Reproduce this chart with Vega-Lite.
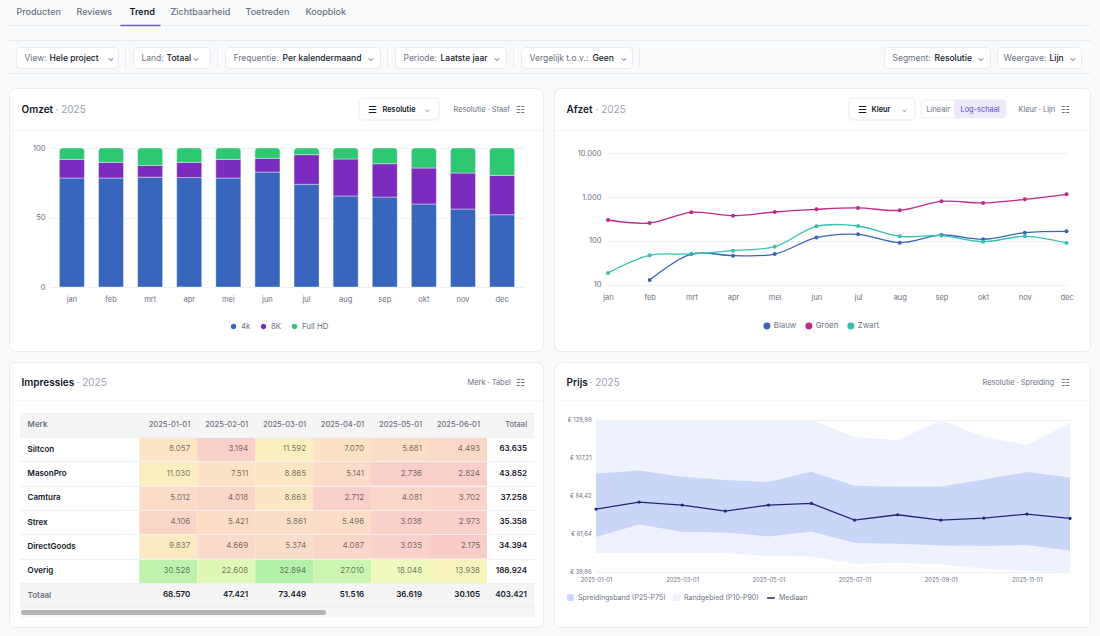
{
"$schema":"https://vega.github.io/schema/vega-lite/v6.json",
"padding":0,
"background":"#f8fafb",
"data":{"values":[]},
"datasets":{"tabel":[
{"merk":"Siltcon","maand":"2025-01-01","waarde":8057},{"merk":"Siltcon","maand":"2025-02-01","waarde":3194},{"merk":"Siltcon","maand":"2025-03-01","waarde":11592},{"merk":"Siltcon","maand":"2025-04-01","waarde":7070},{"merk":"Siltcon","maand":"2025-05-01","waarde":5681},{"merk":"Siltcon","maand":"2025-06-01","waarde":4493},{"merk":"Siltcon","maand":"Totaal","waarde":63635},
{"merk":"MasonPro","maand":"2025-01-01","waarde":11030},{"merk":"MasonPro","maand":"2025-02-01","waarde":7511},{"merk":"MasonPro","maand":"2025-03-01","waarde":8865},{"merk":"MasonPro","maand":"2025-04-01","waarde":5141},{"merk":"MasonPro","maand":"2025-05-01","waarde":2736},{"merk":"MasonPro","maand":"2025-06-01","waarde":2824},{"merk":"MasonPro","maand":"Totaal","waarde":43852},
{"merk":"Camtura","maand":"2025-01-01","waarde":5012},{"merk":"Camtura","maand":"2025-02-01","waarde":4018},{"merk":"Camtura","maand":"2025-03-01","waarde":8863},{"merk":"Camtura","maand":"2025-04-01","waarde":2712},{"merk":"Camtura","maand":"2025-05-01","waarde":4081},{"merk":"Camtura","maand":"2025-06-01","waarde":3702},{"merk":"Camtura","maand":"Totaal","waarde":37258},
{"merk":"Strex","maand":"2025-01-01","waarde":4106},{"merk":"Strex","maand":"2025-02-01","waarde":5421},{"merk":"Strex","maand":"2025-03-01","waarde":5861},{"merk":"Strex","maand":"2025-04-01","waarde":5496},{"merk":"Strex","maand":"2025-05-01","waarde":3038},{"merk":"Strex","maand":"2025-06-01","waarde":2973},{"merk":"Strex","maand":"Totaal","waarde":35358},
{"merk":"DirectGoods","maand":"2025-01-01","waarde":9837},{"merk":"DirectGoods","maand":"2025-02-01","waarde":4669},{"merk":"DirectGoods","maand":"2025-03-01","waarde":5374},{"merk":"DirectGoods","maand":"2025-04-01","waarde":4087},{"merk":"DirectGoods","maand":"2025-05-01","waarde":3035},{"merk":"DirectGoods","maand":"2025-06-01","waarde":2175},{"merk":"DirectGoods","maand":"Totaal","waarde":34394},
{"merk":"Overig","maand":"2025-01-01","waarde":30528},{"merk":"Overig","maand":"2025-02-01","waarde":22608},{"merk":"Overig","maand":"2025-03-01","waarde":32894},{"merk":"Overig","maand":"2025-04-01","waarde":27010},{"merk":"Overig","maand":"2025-05-01","waarde":18048},{"merk":"Overig","maand":"2025-06-01","waarde":13938},{"merk":"Overig","maand":"Totaal","waarde":188924},
{"merk":"Totaal","maand":"2025-01-01","waarde":68570},{"merk":"Totaal","maand":"2025-02-01","waarde":47421},{"merk":"Totaal","maand":"2025-03-01","waarde":73449},{"merk":"Totaal","maand":"2025-04-01","waarde":51516},{"merk":"Totaal","maand":"2025-05-01","waarde":36619},{"merk":"Totaal","maand":"2025-06-01","waarde":30105},{"merk":"Totaal","maand":"Totaal","waarde":403421}
]},
"resolve":{"scale":{"color":"independent","fill":"independent","stroke":"independent"}},
"vconcat":[
{"width":1100,"height":46,
 "resolve":{"scale":{"x":"independent","y":"independent"},"axis":{"x":"independent","y":"independent"}},
 "layer":[
 {"mark":"point","encoding":{"y":{"field":"b","type":"quantitative","scale":{"domain":[0,1]},"axis":null},"x":{"field":"a","type":"quantitative","scale":{"domain":[0,1100]},"axis":{"style":"kop","orient":"top","offset":-11,"title":null,"values":[16,76,129,170,245,305],"labelExpr":"{'16':'Producten','76':'Reviews','129':'Trend','170':'Zichtbaarheid','245':'Toetreden','305':'Koopblok'}[datum.value]","labelFontSize":9,"labelColor":{"condition":{"test":"datum.value==129","value":"#111827"},"value":"#6b7280"},"labelFontWeight":{"condition":{"test":"datum.value==129","value":600},"value":500}}}}},
 {"mark":"point","encoding":{"y":{"field":"b","type":"quantitative","scale":{"domain":[0,1]},"axis":null},"x":{"field":"a","type":"quantitative","scale":{"domain":[0,1],"range":[8,1090]},"axis":{"orient":"top","offset":-25,"title":null,"labels":false,"domain":true,"values":[]}}}},
 {"mark":"point","encoding":{"y":{"field":"b","type":"quantitative","scale":{"domain":[0,1]},"axis":null},"x":{"field":"a","type":"quantitative","scale":{"domain":[0,1],"range":[8,1090]},"axis":{"orient":"top","offset":-40,"title":null,"labels":false,"domain":true,"values":[]}}}},
 {"mark":"point","encoding":{"y":{"field":"b","type":"quantitative","scale":{"domain":[0,1]},"axis":null},"x":{"field":"a","type":"quantitative","scale":{"domain":[0,1],"range":[120,160]},"axis":{"orient":"top","offset":-25,"title":null,"labels":false,"domain":true,"domainColor":"#6d5bd0","domainWidth":1.5,"values":[]}}}}
 ]},
{"bounds":"flush","hconcat":[
  {"width":16,"height":21,"mark":"point"},
  {"width":102,"height":21,"view":{"fill":"#ffffff","stroke":"#e8ebef","cornerRadius":4},"mark":"point","encoding":{
   "x":{"field":"a","type":"quantitative","scale":{"domain":[0,102]},"axis":{"style":"kop","orient":"top","offset":-10.5,"title":null,"values":[8,33,91],"labelExpr":"{'8':'View:','33':'Hele project','91':'⌄'}[datum.value]","labelColor":{"condition":{"test":"datum.value==33","value":"#111827"},"value":"#6b7280"},"labelFontWeight":{"condition":{"test":"datum.value==33","value":500},"value":400}}},
   "y":{"field":"b","type":"quantitative","scale":{"domain":[0,1]},"axis":{"orient":"right","offset":7,"title":null,"labels":false,"domain":true,"values":[]}}}},
  {"width":15,"height":21,"mark":"point"},
  {"width":77,"height":21,"view":{"fill":"#ffffff","stroke":"#e8ebef","cornerRadius":4},"mark":"point","encoding":{
   "x":{"field":"a","type":"quantitative","scale":{"domain":[0,77]},"axis":{"style":"kop","orient":"top","offset":-10.5,"title":null,"values":[8,33,59],"labelExpr":"{'8':'Land:','33':'Totaal','59':'⌄'}[datum.value]","labelColor":{"condition":{"test":"datum.value==33","value":"#111827"},"value":"#6b7280"},"labelFontWeight":{"condition":{"test":"datum.value==33","value":500},"value":400}}},
   "y":{"field":"b","type":"quantitative","scale":{"domain":[0,1]},"axis":{"orient":"right","offset":7,"title":null,"labels":false,"domain":true,"values":[]}}}},
  {"width":15,"height":21,"mark":"point"},
  {"width":155,"height":21,"view":{"fill":"#ffffff","stroke":"#e8ebef","cornerRadius":4},"mark":"point","encoding":{
   "x":{"field":"a","type":"quantitative","scale":{"domain":[0,155]},"axis":{"style":"kop","orient":"top","offset":-10.5,"title":null,"values":[8,57,142],"labelExpr":"{'8':'Frequentie:','57':'Per kalendermaand','142':'⌄'}[datum.value]","labelColor":{"condition":{"test":"datum.value==57","value":"#111827"},"value":"#6b7280"},"labelFontWeight":{"condition":{"test":"datum.value==57","value":500},"value":400}}},
   "y":{"field":"b","type":"quantitative","scale":{"domain":[0,1]},"axis":{"orient":"right","offset":7,"title":null,"labels":false,"domain":true,"values":[]}}}},
  {"width":15,"height":21,"mark":"point"},
  {"width":111,"height":21,"view":{"fill":"#ffffff","stroke":"#e8ebef","cornerRadius":4},"mark":"point","encoding":{
   "x":{"field":"a","type":"quantitative","scale":{"domain":[0,111]},"axis":{"style":"kop","orient":"top","offset":-10.5,"title":null,"values":[8,45,98],"labelExpr":"{'8':'Periode:','45':'Laatste jaar','98':'⌄'}[datum.value]","labelColor":{"condition":{"test":"datum.value==45","value":"#111827"},"value":"#6b7280"},"labelFontWeight":{"condition":{"test":"datum.value==45","value":500},"value":400}}},
   "y":{"field":"b","type":"quantitative","scale":{"domain":[0,1]},"axis":{"orient":"right","offset":7,"title":null,"labels":false,"domain":true,"values":[]}}}},
  {"width":15,"height":21,"mark":"point"},
  {"width":111,"height":21,"view":{"fill":"#ffffff","stroke":"#e8ebef","cornerRadius":4},"mark":"point","encoding":{
   "x":{"field":"a","type":"quantitative","scale":{"domain":[0,111]},"axis":{"style":"kop","orient":"top","offset":-10.5,"title":null,"values":[8,71,99],"labelExpr":"{'8':'Vergelijk t.o.v.:','71':'Geen','99':'⌄'}[datum.value]","labelColor":{"condition":{"test":"datum.value==71","value":"#111827"},"value":"#6b7280"},"labelFontWeight":{"condition":{"test":"datum.value==71","value":500},"value":400}}},
   "y":{"field":"b","type":"quantitative","scale":{"domain":[0,1]},"axis":{"orient":"right","offset":7,"title":null,"labels":false,"domain":true,"values":[]}}}},
  {"width":252,"height":21,"mark":"point"},
  {"width":106,"height":21,"view":{"fill":"#ffffff","stroke":"#e8ebef","cornerRadius":4},"mark":"point","encoding":{
   "x":{"field":"a","type":"quantitative","scale":{"domain":[0,106]},"axis":{"style":"kop","orient":"top","offset":-10.5,"title":null,"values":[8,50,93],"labelExpr":"{'8':'Segment:','50':'Resolutie','93':'⌄'}[datum.value]","labelColor":{"condition":{"test":"datum.value==50","value":"#111827"},"value":"#6b7280"},"labelFontWeight":{"condition":{"test":"datum.value==50","value":500},"value":400}}}}},
  {"width":7,"height":21,"mark":"point"},
  {"width":84,"height":21,"view":{"fill":"#ffffff","stroke":"#e8ebef","cornerRadius":4},"mark":"point","encoding":{
   "x":{"field":"a","type":"quantitative","scale":{"domain":[0,84]},"axis":{"style":"kop","orient":"top","offset":-10.5,"title":null,"values":[6,52,72],"labelExpr":"{'6':'Weergave:','52':'Lijn','72':'⌄'}[datum.value]","labelColor":{"condition":{"test":"datum.value==52","value":"#111827"},"value":"#6b7280"},"labelFontWeight":{"condition":{"test":"datum.value==52","value":500},"value":400}}}}},
  {"width":19,"height":21,"mark":"point"}
]},
{"width":1100,"height":18,"mark":"point","encoding":{"x":{"field":"a","type":"quantitative","scale":{"domain":[0,1],"range":[8,1090]},"axis":{"orient":"top","offset":-4,"title":null,"labels":false,"domain":true,"values":[]}}}},
{"bounds":"flush","resolve":{"scale":{"color":"independent","fill":"independent","stroke":"independent"}},"hconcat":[
 {"width":9,"height":263,"mark":"point"},
 {"width":534,"height":263,"view":{"fill":"#ffffff","stroke":"#e8ebef","cornerRadius":7},
  "resolve":{"scale":{"x":"independent","y":"independent"},"axis":{"x":"independent","y":"independent"}},
  "layer":[
  {"data":{"values":[{"knop":"Resolutie"}]},"mark":{"type":"rect","fill":"#ffffff","stroke":"#e8ebef","cornerRadius":4},"encoding":{
   "x":{"datum":0,"type":"quantitative","scale":{"domain":[0,1],"range":[350,430]},"axis":null},"x2":{"datum":1},
   "y":{"datum":0,"type":"quantitative","scale":{"domain":[0,1],"range":[32,10]},"axis":null},"y2":{"datum":1}}},
  {"mark":"point","encoding":{"y":{"field":"b","type":"quantitative","scale":{"domain":[0,1]},"axis":null},"x":{"field":"a","type":"quantitative","scale":{"domain":[0,534]},"axis":{"style":"kop","zindex":1,"orient":"top","offset":-21,"title":null,"values":[12,46,358,373,415,444,506],"labelExpr":"{'12':'Omzet','46':'· 2025','358':'☰','373':'Resolutie','415':'⌄','444':'Resolutie · Staaf','506':'☷'}[datum.value]","labelFontSize":{"condition":{"test":"datum.value<100||datum.value==358||datum.value==506","value":10},"value":7.4},"labelColor":{"condition":[{"test":"datum.value==12||datum.value==373||datum.value==358","value":"#111827"},{"test":"datum.value==46","value":"#9ca3af"}],"value":"#6b7280"},"labelFontWeight":{"condition":{"test":"datum.value==12||datum.value==373","value":600},"value":400}}}}},
  {"mark":"point","encoding":{"y":{"field":"b","type":"quantitative","scale":{"domain":[0,1]},"axis":null},"x":{"field":"a","type":"quantitative","scale":{"domain":[0,1],"range":[0,534]},"axis":{"orient":"top","offset":-42,"title":null,"labels":false,"domain":true,"domainColor":"#f3f5f7","values":[]}}}},
  {"data":{"values":[
   {"maand":"jan","reeks":"4k","aandeel":78.4},{"maand":"jan","reeks":"8K","aandeel":13.4},{"maand":"jan","reeks":"Full HD","aandeel":8.2},
   {"maand":"feb","reeks":"4k","aandeel":78.4},{"maand":"feb","reeks":"8K","aandeel":11.3},{"maand":"feb","reeks":"Full HD","aandeel":10.3},
   {"maand":"mrt","reeks":"4k","aandeel":79},{"maand":"mrt","reeks":"8K","aandeel":8.5},{"maand":"mrt","reeks":"Full HD","aandeel":12.5},
   {"maand":"apr","reeks":"4k","aandeel":78.7},{"maand":"apr","reeks":"8K","aandeel":11},{"maand":"apr","reeks":"Full HD","aandeel":10.3},
   {"maand":"mei","reeks":"4k","aandeel":78.4},{"maand":"mei","reeks":"8K","aandeel":13.4},{"maand":"mei","reeks":"Full HD","aandeel":8.2},
   {"maand":"jun","reeks":"4k","aandeel":82.7},{"maand":"jun","reeks":"8K","aandeel":9.9},{"maand":"jun","reeks":"Full HD","aandeel":7.4},
   {"maand":"jul","reeks":"4k","aandeel":73.9},{"maand":"jul","reeks":"8K","aandeel":21.3},{"maand":"jul","reeks":"Full HD","aandeel":4.8},
   {"maand":"aug","reeks":"4k","aandeel":65.5},{"maand":"aug","reeks":"8K","aandeel":26.6},{"maand":"aug","reeks":"Full HD","aandeel":7.9},
   {"maand":"sep","reeks":"4k","aandeel":64.7},{"maand":"sep","reeks":"8K","aandeel":24},{"maand":"sep","reeks":"Full HD","aandeel":11.3},
   {"maand":"okt","reeks":"4k","aandeel":59.7},{"maand":"okt","reeks":"8K","aandeel":25.9},{"maand":"okt","reeks":"Full HD","aandeel":14.4},
   {"maand":"nov","reeks":"4k","aandeel":56.1},{"maand":"nov","reeks":"8K","aandeel":25.9},{"maand":"nov","reeks":"Full HD","aandeel":18},
   {"maand":"dec","reeks":"4k","aandeel":52},{"maand":"dec","reeks":"8K","aandeel":28.3},{"maand":"dec","reeks":"Full HD","aandeel":19.7}
  ]},
  "transform":[{"stack":"aandeel","groupby":["maand"],"sort":[{"field":"reeks","order":"ascending"}],"as":["y0","y1"]}],
  "layer":[
   {"transform":[{"filter":"datum.reeks!='Full HD'"}],"mark":{"type":"bar","stroke":"#ffffff","strokeOpacity":0.4,"strokeWidth":1},"encoding":{
    "x":{"field":"maand","type":"nominal","scale":{"type":"band","domain":["jan","feb","mrt","apr","mei","jun","jul","aug","sep","okt","nov","dec"],"range":[41,515],"paddingInner":0.36,"paddingOuter":0.24},"axis":{"orient":"bottom","offset":-64,"title":null,"labelPadding":8.5,"labelFontSize":7.5}},
    "y":{"field":"y1","type":"quantitative","scale":{"domain":[0,100],"range":[199,60],"nice":false},"axis":{"orient":"left","offset":-38,"title":null,"values":[0,50,100],"grid":true,"labelPadding":2,"labelFontSize":7.5}},
    "y2":{"field":"y0"},
    "color":{"field":"reeks","type":"nominal","scale":{"domain":["4k","8K","Full HD"],"range":["#3866bd","#7b2cbf","#2ec772"]},"legend":{"title":null,"orient":"none","legendX":220,"legendY":234,"direction":"horizontal"}}}},
   {"transform":[{"filter":"datum.reeks=='Full HD'"}],"mark":{"type":"bar","stroke":"#ffffff","strokeOpacity":0.4,"strokeWidth":1,"cornerRadiusTopLeft":3,"cornerRadiusTopRight":3},"encoding":{
    "x":{"field":"maand","type":"nominal"},
    "y":{"field":"y1","type":"quantitative"},
    "y2":{"field":"y0"},
    "color":{"field":"reeks","type":"nominal"}}}
  ]}
 ]},
 {"width":10.5,"height":263,"mark":"point"},
 {"width":536,"height":263,"view":{"fill":"#ffffff","stroke":"#e8ebef","cornerRadius":7},
  "resolve":{"scale":{"x":"independent","y":"independent"},"axis":{"x":"independent","y":"independent"}},
  "layer":[
  {"mark":"point","encoding":{"y":{"field":"b","type":"quantitative","scale":{"domain":[0,1]},"axis":null},"x":{"field":"a","type":"quantitative","scale":{"domain":[0,1],"range":[0,536]},"axis":{"orient":"top","offset":-42,"title":null,"labels":false,"domain":true,"domainColor":"#f3f5f7","values":[]}}}},
  {"data":{"values":[{"knop":"Kleur"}]},"mark":{"type":"rect","fill":"#ffffff","stroke":"#e8ebef","cornerRadius":4},"encoding":{
   "x":{"datum":0,"type":"quantitative","scale":{"domain":[0,1],"range":[295,361]},"axis":null},"x2":{"datum":1},
   "y":{"datum":0,"type":"quantitative","scale":{"domain":[0,1],"range":[32,10]},"axis":null},"y2":{"datum":1}}},
  {"data":{"values":[{"knop":"Schaal"}]},"mark":{"type":"rect","fill":"#ffffff","stroke":"#eceef2","cornerRadius":4},"encoding":{
   "x":{"datum":0,"type":"quantitative","scale":{"domain":[0,1],"range":[367,452]},"axis":null},"x2":{"datum":1},
   "y":{"datum":0,"type":"quantitative","scale":{"domain":[0,1],"range":[30,12]},"axis":null},"y2":{"datum":1}}},
  {"data":{"values":[{"knop":"Log-schaal"}]},"mark":{"type":"rect","fill":"#ede9fb","cornerRadius":3},"encoding":{
   "x":{"datum":0,"type":"quantitative","scale":{"domain":[0,1],"range":[400,452]},"axis":null},"x2":{"datum":1},
   "y":{"datum":0,"type":"quantitative","scale":{"domain":[0,1],"range":[30,12]},"axis":null},"y2":{"datum":1}}},
  {"mark":"point","encoding":{"y":{"field":"b","type":"quantitative","scale":{"domain":[0,1]},"axis":null},"x":{"field":"a","type":"quantitative","scale":{"domain":[0,536]},"axis":{"style":"kop","zindex":1,"orient":"top","offset":-21,"title":null,"values":[12,41,303,317,347,372,406,464,506],"labelExpr":"{'12':'Afzet','41':'· 2025','303':'☰','317':'Kleur','347':'⌄','372':'Lineair','406':'Log-schaal','464':'Kleur · Lijn','506':'☷'}[datum.value]","labelFontSize":{"condition":{"test":"datum.value<100||datum.value==303||datum.value==506","value":10},"value":7.4},"labelColor":{"condition":[{"test":"datum.value==12||datum.value==317||datum.value==303","value":"#111827"},{"test":"datum.value==41","value":"#9ca3af"},{"test":"datum.value==406","value":"#5b4bc4"}],"value":"#6b7280"},"labelFontWeight":{"condition":{"test":"datum.value==12||datum.value==317","value":600},"value":400}}}}},
  {"data":{"values":[
   {"maand":"feb","kleur":"Blauw","afzet":12.8},{"maand":"mrt","kleur":"Blauw","afzet":50},{"maand":"apr","kleur":"Blauw","afzet":46},{"maand":"mei","kleur":"Blauw","afzet":50},{"maand":"jun","kleur":"Blauw","afzet":119},{"maand":"jul","kleur":"Blauw","afzet":141},{"maand":"aug","kleur":"Blauw","afzet":91},{"maand":"sep","kleur":"Blauw","afzet":136},{"maand":"okt","kleur":"Blauw","afzet":109},{"maand":"nov","kleur":"Blauw","afzet":154},{"maand":"dec","kleur":"Blauw","afzet":165},
   {"maand":"jan","kleur":"Groen","afzet":300},{"maand":"feb","kleur":"Groen","afzet":256},{"maand":"mrt","kleur":"Groen","afzet":450},{"maand":"apr","kleur":"Groen","afzet":377},{"maand":"mei","kleur":"Groen","afzet":457},{"maand":"jun","kleur":"Groen","afzet":526},{"maand":"jul","kleur":"Groen","afzet":565},{"maand":"aug","kleur":"Groen","afzet":499},{"maand":"sep","kleur":"Groen","afzet":802},{"maand":"okt","kleur":"Groen","afzet":735},{"maand":"nov","kleur":"Groen","afzet":891},{"maand":"dec","kleur":"Groen","afzet":1159},
   {"maand":"jan","kleur":"Zwart","afzet":18.5},{"maand":"feb","kleur":"Zwart","afzet":46.8},{"maand":"mrt","kleur":"Zwart","afzet":50},{"maand":"apr","kleur":"Zwart","afzet":59.8},{"maand":"mei","kleur":"Zwart","afzet":73.8},{"maand":"jun","kleur":"Zwart","afzet":215},{"maand":"jul","kleur":"Zwart","afzet":219},{"maand":"aug","kleur":"Zwart","afzet":127},{"maand":"sep","kleur":"Zwart","afzet":132},{"maand":"okt","kleur":"Zwart","afzet":96},{"maand":"nov","kleur":"Zwart","afzet":127},{"maand":"dec","kleur":"Zwart","afzet":89.6}
  ]},
  "layer":[
   {"mark":{"type":"point","filled":true,"size":16,"opacity":1},"encoding":{
    "x":{"field":"maand","type":"nominal","scale":{"type":"point","domain":["jan","feb","mrt","apr","mei","jun","jul","aug","sep","okt","nov","dec"],"range":[54,512.5],"padding":0},"axis":{"orient":"bottom","offset":-66.3,"title":null,"labelPadding":8.5,"labelFontSize":7.5}},
    "y":{"field":"afzet","type":"quantitative","scale":{"type":"log","domain":[10,10000],"range":[196.7,65.3],"nice":false},"axis":{"orient":"left","offset":-50,"title":null,"values":[10,100,1000,10000],"format":",","grid":true,"labelPadding":3,"labelFontSize":7.5}},
    "color":{"field":"kleur","type":"nominal","scale":{"domain":["Blauw","Groen","Zwart"],"range":["#3a66b8","#c0288e","#35c2b0"]},"legend":{"title":null,"orient":"none","legendX":209,"legendY":234,"direction":"horizontal","symbolSize":30}}}},
   {"mark":{"type":"line","interpolate":"catmull-rom","strokeWidth":1.3},"encoding":{
    "x":{"field":"maand","type":"nominal","axis":{"orient":"bottom","offset":-66.3,"title":null,"labelPadding":8.5,"labelFontSize":7.5}},
    "y":{"field":"afzet","type":"quantitative","axis":{"orient":"left","offset":-50,"title":null,"values":[10,100,1000,10000],"format":",","grid":true,"labelPadding":3,"labelFontSize":7.5}},
    "color":{"field":"kleur","type":"nominal","legend":{"title":null,"orient":"none","legendX":209,"legendY":234,"direction":"horizontal","symbolSize":30}}}}
  ]}
 ]},
 {"width":10.5,"height":263,"mark":"point"}
]},
{"width":1100,"height":5,"mark":"point"},
{"bounds":"flush","resolve":{"scale":{"color":"independent","fill":"independent","stroke":"independent"}},"hconcat":[
 {"width":9,"height":265,"mark":"point"},
 {"width":534,"height":265,"view":{"fill":"#ffffff","stroke":"#e8ebef","cornerRadius":7},
  "resolve":{"scale":{"x":"independent","y":"independent"},"axis":{"x":"independent","y":"independent"}},
  "layer":[
  {"mark":"point","encoding":{"y":{"field":"b","type":"quantitative","scale":{"domain":[0,1]},"axis":null},"x":{"field":"a","type":"quantitative","scale":{"domain":[0,534]},"axis":{"style":"kop","orient":"top","offset":-20,"title":null,"values":[12,67,458,506],"labelExpr":"{'12':'Impressies','67':'· 2025','458':'Merk · Tabel','506':'☷'}[datum.value]","labelFontSize":{"condition":{"test":"datum.value<100||datum.value==506","value":10},"value":7.4},"labelColor":{"condition":[{"test":"datum.value==12","value":"#111827"},{"test":"datum.value==67","value":"#9ca3af"}],"value":"#6b7280"},"labelFontWeight":{"condition":{"test":"datum.value==12","value":600},"value":400}}}}},
  {"mark":"point","encoding":{"y":{"field":"b","type":"quantitative","scale":{"domain":[0,1]},"axis":null},"x":{"field":"a","type":"quantitative","scale":{"domain":[0,1],"range":[0,534]},"axis":{"orient":"top","offset":-38,"title":null,"labels":false,"domain":true,"domainColor":"#f6f7f9","values":[]}}}},
  {"mark":"point","encoding":{"y":{"field":"b","type":"quantitative","scale":{"domain":[0,1]},"axis":null},"x":{"field":"a","type":"quantitative","scale":{"domain":[0,1],"range":[11,525]},"axis":{"orient":"top","offset":-250,"title":null,"labels":false,"domain":true,"domainColor":"#f6f6f7","domainWidth":10,"values":[]}}}},
  {"mark":"point","encoding":{"y":{"field":"b","type":"quantitative","scale":{"domain":[0,1]},"axis":null},"x":{"field":"a","type":"quantitative","scale":{"domain":[0,1],"range":[14,314]},"axis":{"orient":"top","offset":-250,"title":null,"labels":false,"domain":true,"domainColor":"#b4b4b4","domainWidth":5,"domainCap":"round","values":[]}}}},
  {"resolve":{"scale":{"x":"independent"},"axis":{"x":"independent"}},
   "layer":[
   {"data":{"values":[{"merk":"Merk"},{"merk":"Totaal"}]},"mark":{"type":"rect","fill":"#f5f5f6"},"encoding":{
    "x":{"datum":0,"type":"quantitative","scale":{"domain":[0,1],"range":[11,525]},"axis":null},"x2":{"datum":1},
    "y":{"field":"merk","type":"nominal","scale":{"type":"band","domain":["Merk","Siltcon","MasonPro","Camtura","Strex","DirectGoods","Overig","Totaal"],"range":[50.7,245.3],"paddingInner":0,"paddingOuter":0},"axis":{"zindex":1,"orient":"left","offset":-18,"title":null,"grid":true,"tickBand":"extent","labelAlign":"left","labelPadding":0,"labelFontSize":8,"labelColor":{"condition":{"test":"datum.value=='Merk'||datum.value=='Totaal'","value":"#6b7280"},"value":"#111827"},"labelFontWeight":600}}}},
   {"data":{"name":"tabel"},"transform":[{"filter":"datum.merk!='Totaal'&&datum.maand!='Totaal'"}],"mark":"rect","encoding":{
    "x":{"field":"maand","type":"nominal","scale":{"type":"band","domain":["2025-01-01","2025-02-01","2025-03-01","2025-04-01","2025-05-01","2025-06-01"],"range":[130.3,478],"paddingInner":0,"paddingOuter":0},"axis":null},
    "y":{"field":"merk","type":"nominal","axis":{"zindex":1,"orient":"left","offset":-18,"title":null,"grid":true,"tickBand":"extent","labelAlign":"left","labelPadding":0,"labelFontSize":8,"labelColor":{"condition":{"test":"datum.value=='Merk'||datum.value=='Totaal'","value":"#6b7280"},"value":"#111827"},"labelFontWeight":600}},
    "color":{"field":"waarde","type":"quantitative","scale":{"domain":[2175,3200,5000,8000,11600,14000,18000,22600,27000,33000],"range":["#f8cdc8","#f9d1ca","#fadcc9","#fbe5c4","#f9efbf","#f6f4bc","#f0f9bd","#dff8b5","#cbf5b0","#b4f2ab"]},"legend":null}}},
   {"data":{"name":"tabel"},"mark":{"type":"text","align":"right","baseline":"middle","fontSize":8,"dx":{"expr":"datum.maand=='Totaal'?-18:-7"},"fontWeight":{"expr":"datum.merk=='Totaal'||datum.maand=='Totaal'?600:400"},"fill":{"expr":"datum.merk=='Totaal'||datum.maand=='Totaal'?'#111827':'rgba(0,0,0,0.55)'"}},"encoding":{
    "x":{"field":"maand","type":"nominal","bandPosition":1,"scale":{"type":"band","domain":["2025-01-01","2025-02-01","2025-03-01","2025-04-01","2025-05-01","2025-06-01","Totaal"],"range":[130.3,536],"paddingInner":0,"paddingOuter":0},"axis":{"style":"kop","zindex":1,"orient":"top","offset":-62.85,"title":null,"labelAlign":"right","labelFontSize":7.5,"labelOffset":{"condition":{"test":"datum.value=='Totaal'","value":11},"value":22},"labelFontWeight":500}},
    "y":{"field":"merk","type":"nominal","axis":{"zindex":1,"orient":"left","offset":-18,"title":null,"grid":true,"tickBand":"extent","labelAlign":"left","labelPadding":0,"labelFontSize":8,"labelColor":{"condition":{"test":"datum.value=='Merk'||datum.value=='Totaal'","value":"#6b7280"},"value":"#111827"},"labelFontWeight":600}},
    "text":{"field":"waarde","type":"quantitative","format":","}}}
   ]}
 ]},
 {"width":10.5,"height":265,"mark":"point"},
 {"width":536,"height":265,"view":{"fill":"#ffffff","stroke":"#e8ebef","cornerRadius":7},
  "resolve":{"scale":{"x":"independent","y":"independent"},"axis":{"x":"independent","y":"independent"}},
  "layer":[
  {"mark":"point","encoding":{"y":{"field":"b","type":"quantitative","scale":{"domain":[0,1]},"axis":null},"x":{"field":"a","type":"quantitative","scale":{"domain":[0,536]},"axis":{"style":"kop","orient":"top","offset":-20,"title":null,"values":[12,35,428,506],"labelExpr":"{'12':'Prijs','35':'· 2025','428':'Resolutie · Spreiding','506':'☷'}[datum.value]","labelFontSize":{"condition":{"test":"datum.value<100||datum.value==506","value":10},"value":7.4},"labelColor":{"condition":[{"test":"datum.value==12","value":"#111827"},{"test":"datum.value==35","value":"#9ca3af"}],"value":"#6b7280"},"labelFontWeight":{"condition":{"test":"datum.value==12","value":600},"value":400}}}}},
  {"mark":"point","encoding":{"y":{"field":"b","type":"quantitative","scale":{"domain":[0,1]},"axis":null},"x":{"field":"a","type":"quantitative","scale":{"domain":[0,1],"range":[0,536]},"axis":{"orient":"top","offset":-38,"title":null,"labels":false,"domain":true,"domainColor":"#f6f7f9","values":[]}}}},
  {"data":{"values":[
   {"datum":"2025-01-01","p10":50,"p25":59.6,"mediaan":76.4,"p75":97.6,"p90":129.99},
   {"datum":"2025-02-01","p10":50,"p25":67.2,"mediaan":80.6,"p75":99.6,"p90":129.99},
   {"datum":"2025-03-01","p10":50,"p25":62.8,"mediaan":78.8,"p75":95.8,"p90":129.99},
   {"datum":"2025-04-01","p10":50,"p25":62.4,"mediaan":75.2,"p75":93.8,"p90":129.99},
   {"datum":"2025-05-01","p10":48.3,"p25":60,"mediaan":78.8,"p75":92.6,"p90":129.99},
   {"datum":"2025-06-01","p10":47.9,"p25":63,"mediaan":79.8,"p75":98.8,"p90":129.99},
   {"datum":"2025-07-01","p10":43.7,"p25":56,"mediaan":69.8,"p75":90.4,"p90":119.4},
   {"datum":"2025-08-01","p10":44.3,"p25":55.6,"mediaan":73,"p75":89.8,"p90":117.6},
   {"datum":"2025-09-01","p10":43.3,"p25":54.6,"mediaan":69.8,"p75":89.8,"p90":129.6},
   {"datum":"2025-10-01","p10":40.7,"p25":54.2,"mediaan":71,"p75":94.2,"p90":119.8},
   {"datum":"2025-11-01","p10":39.3,"p25":54.8,"mediaan":73.4,"p75":98.6,"p90":114.8},
   {"datum":"2025-12-01","p10":38.86,"p25":51.4,"mediaan":70.8,"p75":95.4,"p90":128.2}
  ]},
  "layer":[
   {"mark":{"type":"area"},"encoding":{
    "x":{"field":"datum","type":"nominal","scale":{"type":"point","domain":["2025-01-01","2025-02-01","2025-03-01","2025-04-01","2025-05-01","2025-06-01","2025-07-01","2025-08-01","2025-09-01","2025-10-01","2025-11-01","2025-12-01"],"range":[42,516],"padding":0},"axis":{"orient":"bottom","offset":-55.3,"title":null,"labelPadding":4.5,"labelFontSize":5.8,"values":["2025-01-01","2025-03-01","2025-05-01","2025-07-01","2025-09-01","2025-11-01"]}},
    "y":{"field":"p10","type":"quantitative","scale":{"domain":[38.86,129.99],"range":[209.7,57.7],"nice":false,"zero":false},"axis":{"orient":"left","offset":-42,"title":null,"values":[38.86,61.64,84.42,107.21,129.99],"format":"$,.2f","grid":true,"labelPadding":5,"labelFontSize":5.8}},
    "y2":{"field":"p90"},
    "fill":{"datum":"Randgebied (P10-P90)","type":"nominal","scale":{"domain":["Spreidingsband (P25-P75)","Randgebied (P10-P90)"],"range":["#c9d6f7","#eef2fd"]},"legend":{"title":null,"orient":"none","legendX":12,"legendY":231,"direction":"horizontal","symbolType":"square","symbolSize":45,"labelFontSize":7}}}},
   {"mark":{"type":"area"},"encoding":{
    "x":{"field":"datum","type":"nominal"},
    "y":{"field":"p25","type":"quantitative"},
    "y2":{"field":"p75"},
    "fill":{"datum":"Spreidingsband (P25-P75)","type":"nominal"}}},
   {"mark":{"type":"line","strokeWidth":1.3},"encoding":{
    "x":{"field":"datum","type":"nominal"},
    "y":{"field":"mediaan","type":"quantitative"},
    "stroke":{"datum":"Mediaan","type":"nominal","scale":{"domain":["Mediaan"],"range":["#1e2a78"]},"legend":{"title":null,"orient":"none","legendX":212,"legendY":231,"direction":"horizontal","symbolType":"stroke","symbolSize":60,"symbolStrokeWidth":1.5,"labelFontSize":7}}}},
   {"mark":{"type":"point","filled":true,"size":10,"color":"#1e2a78","opacity":1},"encoding":{
    "x":{"field":"datum","type":"nominal"},
    "y":{"field":"mediaan","type":"quantitative"}}}
  ]}
 ]},
 {"width":10.5,"height":265,"mark":"point"}
]},
{"width":1100,"height":14,"mark":"point"}
],
"config":{
 "view":{"stroke":null},
 "concat":{"spacing":0},
 "font":"Inter",
 "locale":{"number":{"decimal":",","thousands":".","grouping":[3],"currency":["€ ",""]}},
 "axis":{"ticks":false,"domain":false,"grid":false,"labelOverlap":false,"labelFlush":false,"labelBound":false,"labelLimit":400,"labelFont":"Inter","labelFontSize":8.5,"labelColor":"#6b7280","labelPadding":0,"gridColor":"#eef0f3","domainColor":"#e8ebef"},
 "axisX":{"labelAngle":0},
 "style":{"kop":{"labelAlign":"left","labelBaseline":"middle"}},
 "legend":{"labelFont":"Inter","labelFontSize":7.8,"labelColor":"#6b7280","symbolType":"circle","symbolSize":48,"columnPadding":6,"labelOffset":3}
}
}
